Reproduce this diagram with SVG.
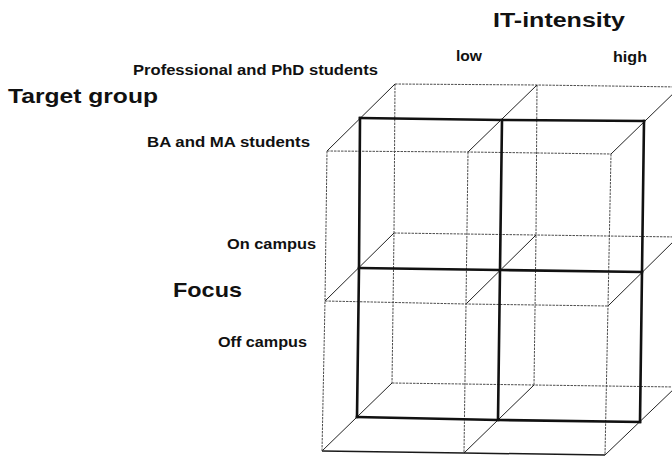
<svg xmlns="http://www.w3.org/2000/svg" width="672" height="457" viewBox="0 0 672 457">
<style>
.thin{stroke:#4d4d4d;stroke-width:1;stroke-dasharray:2.5 1;fill:none}
.depth{stroke:#222;stroke-width:1;fill:none}
.bold{stroke:#111;stroke-width:2.6;fill:none;stroke-linecap:square}
.solid{stroke:#1a1a1a;stroke-width:1.5;fill:none}
text{font-family:"Liberation Sans",Arial,sans-serif;font-weight:bold;fill:#111}
.big{font-size:21px}
.small{font-size:14px}
</style>
<rect width="672" height="457" fill="#fff"/>
<g id="connectors">
  <g id="back-layer">
    <polyline class="thin" points="395,84 537,85 680,87"/>
    <polyline class="thin" points="394,233 536,235 678,237"/>
    <polyline class="thin" points="392,383 534,385 676,387"/>
    <polyline class="thin" points="395,84 394,233 392,383"/>
    <polyline class="thin" points="537,85 536,235 534,385"/>
    <polyline class="thin" points="680,87 678,237 676,387"/>
  </g>
  <g id="depth-lines">
    <line class="depth" x1="327" y1="151" x2="395" y2="84"/>
    <line class="depth" x1="468" y1="152" x2="537" y2="85"/>
    <line class="depth" x1="611" y1="154" x2="680" y2="87"/>
    <line class="depth" x1="325" y1="301" x2="394" y2="233"/>
    <line class="depth" x1="466" y1="304" x2="536" y2="235"/>
    <line class="depth" x1="608" y1="306" x2="678" y2="237"/>
    <line class="depth" x1="322" y1="451" x2="392" y2="383"/>
    <line class="depth" x1="464" y1="453" x2="534" y2="385"/>
    <line class="depth" x1="605" y1="455" x2="676" y2="387"/>
  </g>
  <g id="front-layer">
    <polyline class="thin" points="327,151 468,152 611,154"/>
    <polyline class="thin" points="325,301 466,304 608,306"/>
    <polyline class="solid" points="322,451 464,453 605,455"/>
    <polyline class="thin" points="327,151 325,301 322,451"/>
    <polyline class="thin" points="468,152 466,304 464,453"/>
    <polyline class="thin" points="611,154 608,306 605,455"/>
  </g>
  <g id="bold-layer">
    <polyline class="bold" points="360,118 502,120 644,121"/>
    <polyline class="bold" points="359,268 500,270 642,272"/>
    <polyline class="bold" points="357,417 498,420 640,422"/>
    <polyline class="bold" points="360,118 359,268 357,417"/>
    <polyline class="bold" points="502,120 500,270 498,420"/>
    <polyline class="bold" points="644,121 642,272 640,422"/>
  </g>
</g>
<g id="it-intensity">
  <text class="big" x="493" y="27" textLength="132" lengthAdjust="spacingAndGlyphs">IT-intensity</text>
  <text class="small" x="456" y="61" textLength="26" lengthAdjust="spacingAndGlyphs">low</text>
  <text class="small" x="613" y="62" textLength="34" lengthAdjust="spacingAndGlyphs">high</text>
</g>
<g id="target-group">
  <text class="small" x="133" y="75" textLength="245" lengthAdjust="spacingAndGlyphs">Professional and PhD students</text>
  <text class="big" x="8" y="103" textLength="150" lengthAdjust="spacingAndGlyphs">Target group</text>
  <text class="small" x="147" y="147" textLength="163" lengthAdjust="spacingAndGlyphs">BA and MA students</text>
</g>
<g id="focus">
  <text class="small" x="227" y="249" textLength="89" lengthAdjust="spacingAndGlyphs">On campus</text>
  <text class="big" x="173" y="297" textLength="69" lengthAdjust="spacingAndGlyphs">Focus</text>
  <text class="small" x="218" y="347" textLength="89" lengthAdjust="spacingAndGlyphs">Off campus</text>
</g>
</svg>
